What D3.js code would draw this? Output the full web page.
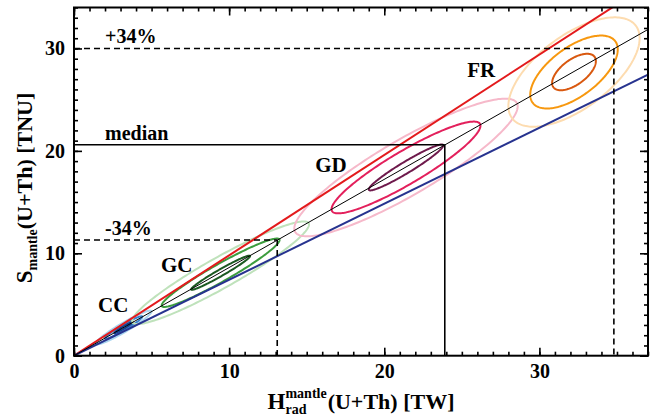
<!DOCTYPE html>
<html>
<head>
<meta charset="utf-8">
<script src="https://cdn.jsdelivr.net/npm/d3@7"></script>
<style>
  html, body { margin: 0; padding: 0; background: #fff; }
  svg { display: block; }
  text { font-family: "Liberation Serif", "Times New Roman", serif; font-weight: bold; fill: #000; }
</style>
</head>
<body>
<svg id="chart" width="654" height="416"></svg>
<script>
// ---------- data ----------
const xTicks = [0, 10, 20, 30];
const yTicks = [0, 10, 20, 30];
const xDomain = [0, 37];
const yDomain = [0, 34];

// reference lines through the origin: S = slope * H
const lineNames = ["upper", "lower", "central"];
const lineSlopes = [0.98, 0.742, 0.861];
const lineColors = ["#e31a1c", "#27338f", "#000000"];

// percentiles of the mantle signal
const pctLabels = ["-34%", "median", "+34%"];
const pctH = [13.1, 23.9, 34.8];
const pctS = [11.3, 20.6, 30.0];

// Earth models: contour ellipses (1, 2, 3 sigma)
const models = ["CC", "GC", "GD", "FR"];
const modelH = [3.2, 9.45, 21.4, 32.23];
const modelS = [2.75, 8.1, 18.38, 27.7];
const modelSigH = [0.6, 1.9, 2.4, 1.41];
const modelSigS = [0.55, 1.67, 2.24, 1.78];
const modelRho = [[0.97, 0.96, 0.95], [0.975, 0.956, 0.94], [0.958, 0.91, 0.887], [0.6, 0.62, 0.62]];
const modelColors = [
  ["#123f8c", "#3a85cf", "#a9d5ef"],
  ["#1c5a22", "#3c9c3e", "#bfe2bb"],
  ["#6e1a4c", "#e3205c", "#f6b9ca"],
  ["#d9580f", "#f7980f", "#fddcb0"]
];
const modelLabelH = [1.55, 5.6, 15.55, 25.35];
const modelLabelS = [4.27, 8.17, 17.94, 27.22];

// ---------- layout ----------
const svg = d3.select("#chart");
const L = 74, R = 648, T = 7.5, B = 355.7;
const x = d3.scaleLinear().domain(xDomain).range([L, R]);
const y = d3.scaleLinear().domain(yDomain).range([B, T]);

svg.append("defs").append("clipPath").attr("id", "clip")
  .append("rect").attr("x", L).attr("y", T).attr("width", R - L).attr("height", B - T);

const plot = svg.append("g").attr("clip-path", "url(#clip)");

// ellipses (outer first)
const lineGen = d3.line().x(d => x(d[0])).y(d => y(d[1])).curve(d3.curveLinearClosed);
models.forEach((m, i) => {
  for (let k = 3; k >= 1; k--) {
    const rho = modelRho[i][k - 1];
    const pts = d3.range(0, 200).map(j => {
      const t = j / 200 * 2 * Math.PI;
      return [
        modelH[i] + k * modelSigH[i] * Math.cos(t),
        modelS[i] + k * modelSigS[i] * (rho * Math.cos(t) + Math.sqrt(1 - rho * rho) * Math.sin(t))
      ];
    });
    plot.append("path").attr("d", lineGen(pts))
      .attr("fill", "none").attr("stroke", modelColors[i][k - 1]).attr("stroke-width", 2);
  }
});

// reference lines
lineSlopes.forEach((s, i) => {
  plot.append("line")
    .attr("x1", x(0)).attr("y1", y(0))
    .attr("x2", x(xDomain[1])).attr("y2", y(s * xDomain[1]))
    .attr("stroke", lineColors[i])
    .attr("stroke-width", i === 2 ? 1 : 2);
});

// percentile lines
pctLabels.forEach((lab, i) => {
  const dash = lab === "median" ? null : "6,4";
  [[x(0), y(pctS[i]), x(pctH[i]), y(pctS[i])], [x(pctH[i]), y(pctS[i]), x(pctH[i]), y(0)]].forEach(c => {
    svg.append("line").attr("x1", c[0]).attr("y1", c[1]).attr("x2", c[2]).attr("y2", c[3])
      .attr("stroke", "#000").attr("stroke-width", 1.6)
      .attr("stroke-dasharray", dash);
  });
  svg.append("text").attr("x", x(2.0)).attr("y", y(pctS[i]) - 5)
    .style("font-size", "20px").text(lab);
});

// model labels
models.forEach((m, i) => {
  svg.append("text").attr("x", x(modelLabelH[i])).attr("y", y(modelLabelS[i]))
    .style("font-size", "21px").text(m);
});

// ---------- axes ----------
const minorX = d3.range(0, 38, 1);
const minorY = d3.range(0, 35, 1);
function styleAxis(g) {
  g.select(".domain").remove();
  g.selectAll(".tick line").attr("stroke", "#000").attr("stroke-width", 1.6);
  g.selectAll(".tick text").style("font-size", "20px").style("font-family", "Liberation Serif").style("font-weight", "bold");
}
// bottom
svg.append("g").attr("transform", `translate(0,${B})`)
  .call(d3.axisBottom(x).tickValues(minorX).tickSize(-4).tickFormat(""))
  .call(styleAxis);
svg.append("g").attr("transform", `translate(0,${B})`)
  .call(d3.axisBottom(x).tickValues(xTicks).tickSizeInner(-8).tickSizeOuter(0).tickPadding(8).tickFormat(d3.format("d")))
  .call(styleAxis);
// top
svg.append("g").attr("transform", `translate(0,${T})`)
  .call(d3.axisTop(x).tickValues(minorX).tickSize(-4).tickFormat(""))
  .call(styleAxis);
svg.append("g").attr("transform", `translate(0,${T})`)
  .call(d3.axisTop(x).tickValues(xTicks).tickSize(-8).tickFormat(""))
  .call(styleAxis);
// left
svg.append("g").attr("transform", `translate(${L},0)`)
  .call(d3.axisLeft(y).tickValues(minorY).tickSize(-4).tickFormat(""))
  .call(styleAxis);
svg.append("g").attr("transform", `translate(${L},0)`)
  .call(d3.axisLeft(y).tickValues(yTicks).tickSizeInner(-8).tickSizeOuter(0).tickPadding(9).tickFormat(d3.format("d")))
  .call(styleAxis);
// right
svg.append("g").attr("transform", `translate(${R},0)`)
  .call(d3.axisRight(y).tickValues(minorY).tickSize(-4).tickFormat(""))
  .call(styleAxis);
svg.append("g").attr("transform", `translate(${R},0)`)
  .call(d3.axisRight(y).tickValues(yTicks).tickSize(-8).tickFormat(""))
  .call(styleAxis);

// frame
svg.append("rect").attr("x", L).attr("y", T).attr("width", R - L).attr("height", B - T)
  .attr("fill", "none").attr("stroke", "#000").attr("stroke-width", 2);

// ---------- axis titles ----------
// x title: H^{mantle}_{rad}(U+Th) [TW]
const xt = svg.append("g");
const tH = xt.append("text").attr("y", 409).style("font-size", "23px").text("H");
const wH = tH.node().getComputedTextLength();
const tSup = xt.append("text").attr("x", wH).attr("y", 398).style("font-size", "14px").text("mantle");
const tSub = xt.append("text").attr("x", wH).attr("y", 414).style("font-size", "14px").text("rad");
const wSup = Math.max(tSup.node().getComputedTextLength(), tSub.node().getComputedTextLength());
const tRest = xt.append("text").attr("x", wH + wSup + 1).attr("y", 409).style("font-size", "22px").text("(U+Th) [TW]");
const wAll = wH + wSup + 1 + tRest.node().getComputedTextLength();
xt.attr("transform", `translate(${(L + R) / 2 - wAll / 2},0)`);

// y title: S_{mantle}(U+Th) [TNU]
const yt = svg.append("text").attr("transform", "rotate(-90)").attr("y", 32);
yt.append("tspan").style("font-size", "23px").text("S");
yt.append("tspan").style("font-size", "14px").attr("dy", 5).text("mantle");
yt.append("tspan").style("font-size", "22px").attr("dy", -5).text("(U+Th) [TNU]");
const wY = yt.node().getComputedTextLength();
yt.attr("x", -(188 + wY / 2));
</script>
</body>
</html>
